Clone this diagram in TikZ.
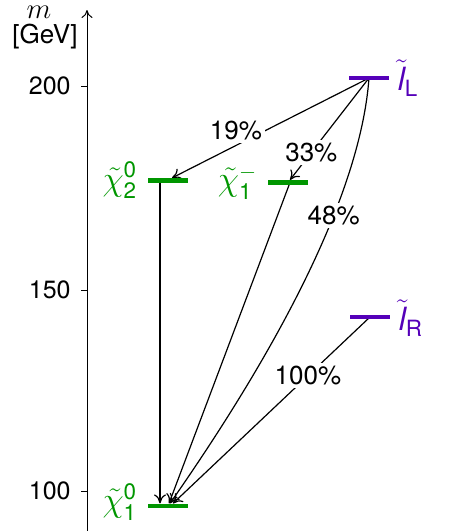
\documentclass[tikz,border=0pt]{standalone}
\usepackage{fontspec}
\setmainfont{TeX Gyre Heros}
\setsansfont{TeX Gyre Heros}
\usetikzlibrary{arrows.meta,calc,backgrounds}
\definecolor{chigreen}{RGB}{0,150,0}
\definecolor{slpurple}{RGB}{85,0,185}
\begin{document}
\begin{tikzpicture}[x=0.5pt,y=-0.5pt,
  font=\fontsize{13}{15}\selectfont,
  bar/.style={rectangle, inner sep=0pt, minimum width=20pt, minimum height=2.2pt},
  conn/.style={line width=0.6pt, -{To[length=4.5pt,width=6pt]}},
  pct/.style={fill=white, inner sep=1.5pt},
  axisline/.style={line width=0.5pt, -{To[length=4pt,width=5.5pt]}},
  tickline/.style={line width=0.5pt},
  ticklabel/.style={anchor=east, inner sep=0pt, font=\fontsize{12.5}{15}\selectfont},
  partlab/.style={inner sep=0pt, font=\fontsize{16}{19}\selectfont}]
\useasboundingbox (0,0) rectangle (450,531);
% axis
\coordinate (axbot) at (87,531);
\coordinate (axtop) at (87,10);
\draw[axisline] (axbot) -- (axtop);
\node[inner sep=0pt, font=\fontsize{15}{18}\selectfont] (mlab) at (39,12) {$m$};
\node (unitlab) at (45,37) {[GeV]};
\foreach \v/\y in {200/86,150/290,100/491}{
  \coordinate (t\v) at (87,\y);
  \draw[tickline] (t\v) -- ++(-6,0);
  \node[ticklabel] (l\v) at (71,\y) {\v};
}
% levels
\node[bar, fill=slpurple] (lL) at (369,78) {};
\node[bar, fill=slpurple] (lR) at (370,317) {};
\node[bar, fill=chigreen] (N2) at (168,180.5) {};
\node[bar, fill=chigreen] (C1) at (288,182.5) {};
\node[bar, fill=chigreen] (N1) at (168,506) {};
% level labels
\node[partlab, text=slpurple, anchor=west] (lLl) at ($(lL.east)+(8,0)$) {$\tilde{\mathit{l}}_{\mathsf{L}}$};
\node[partlab, text=slpurple, anchor=west] (lRl) at ($(lR.east)+(8,1)$) {$\tilde{\mathit{l}}_{\mathsf{R}}$};
\node[partlab, text=chigreen, anchor=east] (N2l) at ($(N2.west)+(-10,0)$) {$\tilde{\chi}^{\mathsf{0}}_{\mathsf{2}}$};
\node[partlab, text=chigreen, anchor=east] (C1l) at ($(C1.west)+(-10,0)$) {$\tilde{\chi}^{-}_{\mathsf{1}}$};
\node[partlab, text=chigreen, anchor=east] (N1l) at ($(N1.west)+(-10,-4)$) {$\tilde{\chi}^{\mathsf{0}}_{\mathsf{1}}$};
% decays
\begin{scope}[on background layer]
\draw[conn] (lL.center) -- node[pct, pos=0.645, xshift=-3pt, yshift=5.9pt] (p19) {19\%} ($(N2.north)+(4,0)$);
\draw[conn] (lL.center) -- node[pct, pos=0.73] (p33) {33\%} ($(C1.north)+(2,0)$);
\draw[conn] (lL.center) .. controls (360,200) and (270,360) .. node[pct, pos=0.345] (p48) {48\%} ($(N1.north)+(2,0)$);
\draw[conn] ($(C1.center)+(2,0)$) -- ($(N1.north)+(1,0)$);
\draw[conn] (lR.center) -- node[pct, pos=0.315] (p100) {100\%} ($(N1.north)+(5,0)$);
\draw[conn] ($(N2.center)+(-8,0)$) -- ($(N1.north)+(-8,0)$);
\end{scope}
\end{tikzpicture}
\end{document}
